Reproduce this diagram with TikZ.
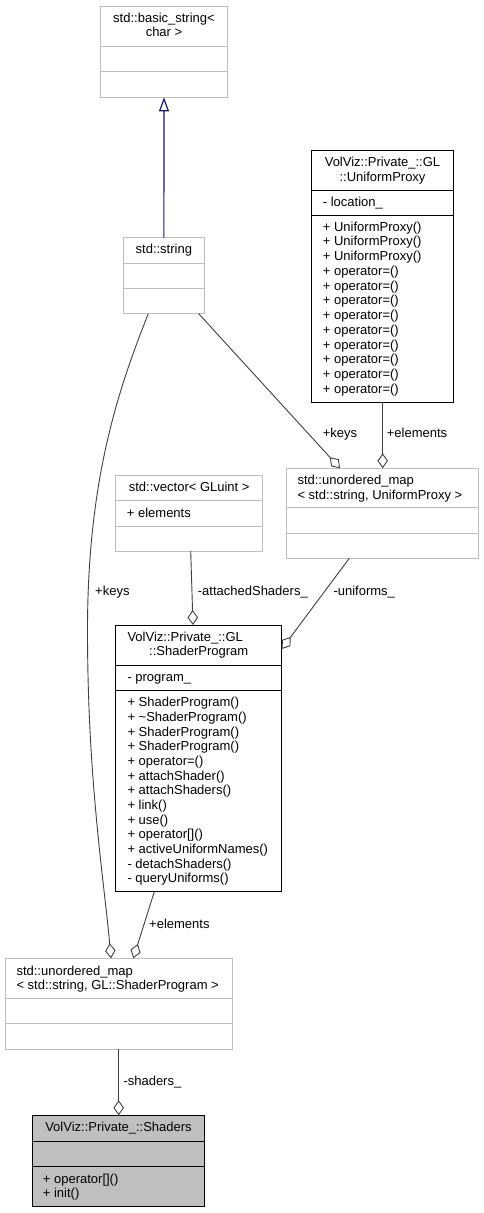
\documentclass[tikz,border=0pt]{standalone}
\usepackage{fontspec}
\setmainfont{Liberation Sans}
\usetikzlibrary{calc,arrows.meta}
\definecolor{gfr}{HTML}{BFBFBF}
\definecolor{edgec}{HTML}{404040}
\definecolor{inhc}{HTML}{191970}
\tikzset{
  box/.style={draw, inner sep=0pt, outer sep=0pt, line width=1pt},
  extbox/.style={box, draw=gfr},
  docbox/.style={box, draw=black},
  curbox/.style={box, draw=black, fill=gfr},
  txt/.style={inner sep=0pt, font=\fontsize{13}{15}\selectfont, anchor=base west},
  ctxt/.style={txt, anchor=base},
  elabel/.style={txt},
  agg/.style={draw=edgec, line width=0.9pt, -{Diamond[open, fill=white, length=15pt, width=10.5pt]}},
  inh/.style={draw=inhc, line width=1.2pt, -{Triangle[open, fill=white, length=14pt, width=10pt]}},
}
\newcommand\classbox[6]{\node[#1, minimum width={#5-#3}, minimum height={#6-#4}] (#2) at ({(#3+#5)/2},{(#4+#6)/2}) {};}
\newcommand\sepl[3]{\draw[line width=1pt,#3] (#1.west |- 0,#2) -- (#1.east |- 0,#2);}
\begin{document}
\begin{tikzpicture}[x=1pt,y=-1pt]
\path[fill=white, use as bounding box] (0,0) rectangle (484,1213);

% ---------- boxes ----------
\classbox{extbox}{bs}{100.7}{6.7}{227.3}{97.3}
\sepl{bs}{46.7}{gfr}\sepl{bs}{71.7}{gfr}
\classbox{extbox}{str}{123.7}{237.7}{204}{313.7}
\sepl{str}{263.3}{gfr}\sepl{str}{288.7}{gfr}
\classbox{docbox}{up}{311.7}{150}{453.3}{402}
\sepl{up}{190.3}{black}\sepl{up}{215}{black}
\classbox{extbox}{upm}{286.7}{468.3}{478.7}{558.3}
\sepl{upm}{507.7}{gfr}\sepl{upm}{533.3}{gfr}
\classbox{extbox}{vec}{115.7}{475.3}{262.7}{551}
\sepl{vec}{500.3}{gfr}\sepl{vec}{526}{gfr}
\classbox{docbox}{sp}{115.7}{625}{281.7}{891.7}
\sepl{sp}{665}{black}\sepl{sp}{690.7}{black}
\classbox{extbox}{spm}{5}{958.3}{232}{1049.3}
\sepl{spm}{998.7}{gfr}\sepl{spm}{1023.7}{gfr}
\classbox{curbox}{sh}{32.3}{1115.3}{204.7}{1206.7}
\sepl{sh}{1141.7}{black}\sepl{sh}{1166.7}{black}

% ---------- texts ----------
\node[ctxt] (bsT1) at (164,22.8) {std::basic\_string<};
\node[ctxt] (bsT2) at (164,36.8) {char >};
\node[ctxt] (strT) at (163.85,253.8) {std::string};

\node[ctxt] (upT1) at (382.5,166.2) {VolViz::Private\_::GL};
\node[ctxt] (upT2) at (382.5,181.2) {::UniformProxy};
\node[txt] (upA) at (322.7,206.2) {- location\_};
\foreach \m [count=\i] in {{+ UniformProxy()},{+ UniformProxy()},{+ UniformProxy()},
  {+ operator=()},{+ operator=()},{+ operator=()},{+ operator=()},{+ operator=()},
  {+ operator=()},{+ operator=()},{+ operator=()},{+ operator=()}}
  \node[txt] (upf\i) at (322.7,{231.2+14.73*(\i-1)}) {\m};

\node[txt] (upmT1) at (297.3,484.5) {std::unordered\_map};
\node[txt] (upmT2) at (297.3,499.2) {< std::string, UniformProxy >};

\node[ctxt] (vecT) at (189.2,491.2) {std::vector< GLuint >};
\node[txt] (vecA) at (126.7,517.2) {+ elements};

\node[txt] (spT1) at (127.3,641.2) {VolViz::Private\_::GL};
\node[ctxt] (spT2) at (198.7,655.5) {::ShaderProgram};
\node[txt] (spA) at (127.3,681.2) {- program\_};
\foreach \m [count=\i] in {{+ ShaderProgram()},{+ \textasciitilde ShaderProgram()},
  {+ ShaderProgram()},{+ ShaderProgram()},{+ operator=()},{+ attachShader()},
  {+ attachShaders()},{+ link()},{+ use()},{+ operator[]()},{+ activeUniformNames()},
  {- detachShaders()},{- queryUniforms()}}
  \node[txt] (spf\i) at (127.3,{706.8+14.67*(\i-1)}) {\m};

\node[txt] (spmT1) at (16.3,975.2) {std::unordered\_map};
\node[txt] (spmT2) at (16.3,989.2) {< std::string, GL::ShaderProgram >};

\node[ctxt] (shT) at (118.5,1131.8) {VolViz::Private\_::Shaders};
\node[txt] (shf1) at (42.7,1183.2) {+ operator[]()};
\node[txt] (shf2) at (42.7,1197.2) {+ init()};

% ---------- connectors ----------
\draw[inh] (str.north) -- (bs.south);
\draw[agg] ($(str.south west)+(75,0)$) -- ($(upm.north west)+(53.3,0)$);
\draw[agg] ($(up.south west)+(71,0)$) -- ($(upm.north west)+(96,0)$);
\draw[agg] ($(vec.south west)+(75,0)$) -- ($(sp.north west)+(77.3,0)$);
\draw[agg] ($(upm.south west)+(62.6,0)$) -- ($(sp.north east)+(0,24)$);
\draw[agg] ($(str.south west)+(24.6,0)$) .. controls (118,390) and (87.5,480) .. (87.5,630)
   .. controls (87.5,780) and (104,880) .. ($(spm.north west)+(106,0)$);
\draw[agg] ($(sp.south west)+(38.6,0)$) -- ($(spm.north west)+(128.3,0)$);
\draw[agg] ($(spm.south west)+(113.7,0)$) -- ($(sh.north west)+(86.4,0)$);

% ---------- edge labels ----------
\node[elabel] (lk1) at (322.7,437.8) {+keys};
\node[elabel] (le1) at (386.7,437.8) {+elements};
\node[elabel] (lk2) at (95,595.2) {+keys};
\node[elabel] (la) at (197.7,595.2) {-attachedShaders\_};
\node[elabel] (lu) at (333.3,595.2) {-uniforms\_};
\node[elabel] (le2) at (149,928.8) {+elements};
\node[elabel] (ls) at (123.3,1085.8) {-shaders\_};
\end{tikzpicture}
\end{document}
